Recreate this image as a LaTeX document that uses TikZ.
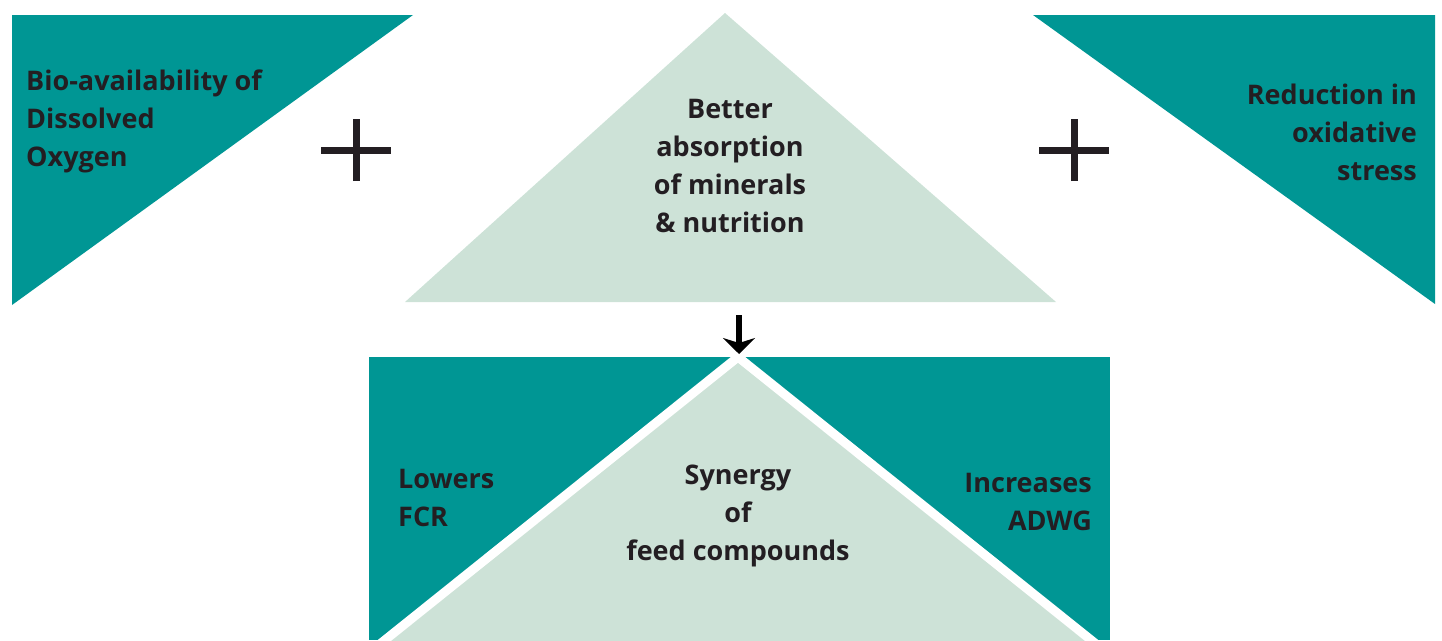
\documentclass[tikz,border=0pt]{standalone}
\usepackage{fontspec}
\setmainfont{Open Sans}
\usepackage{tikz}
\usetikzlibrary{positioning}
\usetikzlibrary{arrows.meta}
\definecolor{tealfill}{RGB}{0,150,148}
\definecolor{mintfill}{RGB}{205,226,215}
\definecolor{inkdark}{RGB}{35,30,34}
\tikzset{
  darkpart/.style={fill=tealfill,draw=none},
  lightpart/.style={fill=mintfill,draw=none},
  gapline/.style={draw=white,line width=9pt,line join=miter},
  boxtext/.style={font=\bfseries\fontsize{27}{38}\selectfont,text=inkdark,inner sep=0},
  plusbar/.style={draw=inkdark,line width=7pt}
}

\begin{document}
\begin{tikzpicture}[x=1pt,y=-1pt]
  \useasboundingbox (0,0) rectangle (1442,640);
  % top row
  \coordinate (tl1) at (12,15);
  \coordinate (tl2) at (413,15);
  \coordinate (tl3) at (12,305);
  \coordinate (tr1) at (1033,15);
  \coordinate (tr2) at (1435,15);
  \coordinate (tr3) at (1435,304);
  \coordinate (mid0) at (725,13);
  \coordinate (mid1) at (405,302);
  \coordinate (mid2) at (1056,302);
  \fill[darkpart] (tl1) -- (tl2) -- (tl3) -- cycle;
  \fill[darkpart] (tr1) -- (tr2) -- (tr3) -- cycle;
  \fill[lightpart] (mid0) -- (mid1) -- (mid2) -- cycle;
  \node[boxtext,anchor=base west,align=left] (oxygen) at (26,166)
    {Bio-availability of\\Dissolved\\Oxygen};
  \node[boxtext,anchor=base east,align=right] (stress) at (1417,180)
    {Reduction in\\oxidative\\stress};
  \node[boxtext,align=center] (absorb) at (730,166)
    {Better\\absorption\\of minerals\\\& nutrition};
  \coordinate (plusL) at (356,150);
  \coordinate (plusR) at (1074,150);
  \foreach \p in {plusL,plusR} {
    \draw[plusbar] ([xshift=-35pt]\p) -- ([xshift=35pt]\p);
    \draw[plusbar] ([yshift=-31pt]\p) -- ([yshift=31pt]\p);
  }
  % bottom row
  \coordinate (bot0) at (738,357);
  \coordinate (bot1) at (360,660);
  \coordinate (bot2) at (1116,660);
  \fill[darkpart] (369,357) rectangle (1110,640);
  \fill[lightpart] (bot0) -- (bot1) -- (bot2) -- cycle;
  \draw[gapline] (bot1) -- (bot0) -- (bot2);
  \node[boxtext,anchor=base west,align=left] (fcr) at (398,526)
    {Lowers\\FCR};
  \node[boxtext,anchor=base east,align=right] (adwg) at (1092,530)
    {Increases\\ADWG};
  \node[boxtext,align=center] (synergy) at (738,516)
    {Synergy\\of\\feed compounds};
  \coordinate (arrtop) at (739,315);
  \coordinate (arrtip) at (739,354);
  \draw[draw=black,line width=6pt,-{Stealth[length=16pt,width=32pt,inset=5pt]}] (arrtop) -- (arrtip);
\end{tikzpicture}
\end{document}
